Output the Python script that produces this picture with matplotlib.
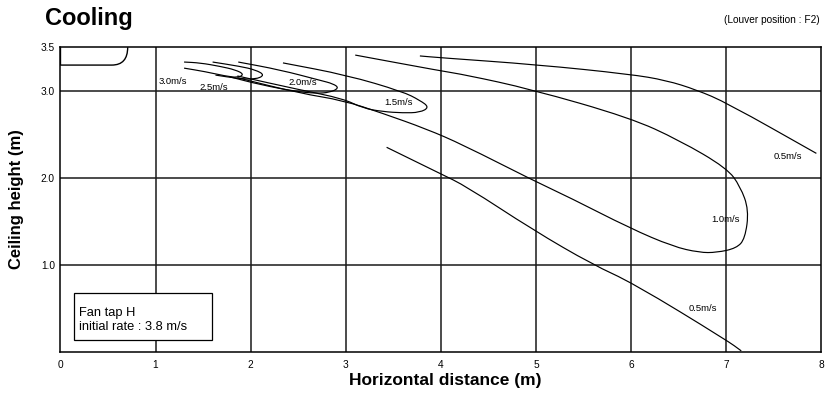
import matplotlib
matplotlib.use("Agg")
import matplotlib.pyplot as plt
from matplotlib.path import Path
from matplotlib.patches import PathPatch, Rectangle

plt.rcParams['font.family'] = ['Liberation Sans', 'DejaVu Sans']

# contour lines (x = horizontal distance m, y = height m)
v30_x = [1.30, 1.47, 1.68, 1.84, 1.93, 1.87, 1.73, 1.52, 1.30]
v30_y = [3.33, 3.32, 3.28, 3.24, 3.19, 3.15, 3.17, 3.22, 3.26]

v25_x = [1.60, 1.89, 2.05, 2.15, 2.05, 1.87, 1.63]
v25_y = [3.33, 3.28, 3.24, 3.18, 3.13, 3.14, 3.18]

v20_x = [1.87, 2.31, 2.73, 2.87, 2.93, 2.83, 2.69, 2.48, 2.10, 1.78]
v20_y = [3.33, 3.24, 3.12, 3.08, 3.03, 2.98, 2.97, 2.99, 3.07, 3.16]

v15_x = [2.34, 3.01, 3.60, 3.78, 3.88, 3.78, 3.60, 3.39, 3.18, 2.97, 2.52, 1.86]
v15_y = [3.32, 3.18, 2.99, 2.89, 2.81, 2.75, 2.745, 2.76, 2.80, 2.91, 3.01, 3.17]

v10_x = [3.10, 3.99, 4.27, 4.94, 5.99, 6.51, 7.01, 7.15, 7.24, 7.20, 7.11, 6.90,
         6.72, 6.44, 5.99, 5.36, 4.97, 4.23, 3.85, 3.39, 2.97, 2.52, 1.86]
v10_y = [3.41, 3.23, 3.18, 3.02, 2.69, 2.43, 2.11, 1.90, 1.63, 1.30, 1.19, 1.14,
         1.14, 1.21, 1.42, 1.77, 1.97, 2.38, 2.56, 2.74, 2.89, 2.97, 3.15]

v05_upper_x = [3.78, 3.99, 5.01, 5.99, 6.37, 6.69, 7.01, 7.95]
v05_upper_y = [3.40, 3.38, 3.30, 3.19, 3.12, 3.01, 2.86, 2.28]

v05_lower_x = [3.43, 3.99, 4.27, 4.97, 5.60, 6.02, 7.01, 7.16]
v05_lower_y = [2.35, 2.05, 1.90, 1.40, 1.00, 0.79, 0.13, 0.01]

curves = [(v30_x, v30_y), (v25_x, v25_y), (v20_x, v20_y), (v15_x, v15_y),
          (v10_x, v10_y), (v05_upper_x, v05_upper_y), (v05_lower_x, v05_lower_y)]

label_text = ['3.0m/s', '2.5m/s', '2.0m/s', '1.5m/s', '1.0m/s', '0.5m/s', '0.5m/s']
label_x = [1.18, 1.61, 2.545, 3.56, 6.99, 7.65, 6.76]
label_y = [3.105, 3.04, 3.09, 2.86, 1.52, 2.24, 0.50]

x_ticks = [0, 1, 2, 3, 4, 5, 6, 7, 8]
y_ticks = [1.0, 2.0, 3.0, 3.5]
y_ticklabels = ['1.0', '2.0', '3.0', '3.5']


def smooth_path(xs, ys):
    # rounded polyline: each read point acts as a control point
    pts = list(zip(xs, ys))
    verts = [pts[0]]
    codes = [Path.MOVETO]
    for i in range(1, len(pts) - 1):
        m0 = ((pts[i - 1][0] + pts[i][0]) / 2, (pts[i - 1][1] + pts[i][1]) / 2)
        m1 = ((pts[i][0] + pts[i + 1][0]) / 2, (pts[i][1] + pts[i + 1][1]) / 2)
        verts += [m0, pts[i], m1]
        codes += [Path.LINETO, Path.CURVE3, Path.CURVE3]
    verts.append(pts[-1])
    codes.append(Path.LINETO)
    return Path(verts, codes)


fig = plt.figure(figsize=(8.25, 3.97), dpi=100)
ax = fig.add_axes([0.0733, 0.114, 0.922, 0.767])
ax.set_xlim(0, 8)
ax.set_ylim(0, 3.5)

# grid
for gx in x_ticks[1:-1]:
    ax.axvline(gx, color='#1a1a1a', lw=1.1, zorder=1)
for gy in [1.0, 2.0, 3.0]:
    ax.axhline(gy, color='#1a1a1a', lw=1.1, zorder=1)

for cx, cy in curves:
    ax.add_patch(PathPatch(smooth_path(cx, cy), fill=False, lw=0.85,
                           edgecolor='black', zorder=3))

for t, tx, ty in zip(label_text, label_x, label_y):
    ax.text(tx, ty, t, fontsize=6.8, ha='center', va='center', zorder=4)

# louver outline
verts = [(0, 3.5), (0, 3.295), (0.54, 3.295), (0.707, 3.295), (0.707, 3.5)]
codes = [Path.MOVETO, Path.LINETO, Path.LINETO, Path.CURVE3, Path.CURVE3]
ax.add_patch(PathPatch(Path(verts, codes), fill=False, lw=1.0, edgecolor='black', zorder=3))

# info box
ax.add_patch(Rectangle((0.145, 0.134), 1.451, 0.544, facecolor='white',
                       edgecolor='black', lw=0.9, zorder=5))
ax.text(0.198, 0.366, 'Fan tap H\ninitial rate : 3.8 m/s', fontsize=9.3,
        ha='left', va='center', linespacing=1.25, zorder=6)

ax.set_xticks(x_ticks)
ax.set_xticklabels([str(v) for v in x_ticks])
ax.set_yticks(y_ticks)
ax.set_yticklabels(y_ticklabels)
ax.tick_params(axis='x', length=0, labelsize=7.3, pad=6)
ax.tick_params(axis='y', length=0, labelsize=7.3, pad=4)
for s in ax.spines.values():
    s.set_linewidth(1.1)

fig.text(45 / 825, 1 - 18 / 397, 'Cooling', fontsize=17, fontweight='bold',
         ha='left', va='center')
fig.text(820 / 825, 1 - 20 / 397, '(Louver position : F2)', fontsize=7.3,
         ha='right', va='center')
fig.text(17 / 825, 0.4975, 'Ceiling height (m)', fontsize=12, fontweight='bold',
         rotation=90, ha='center', va='center')
fig.text(0.54, 1 - 381 / 397, 'Horizontal distance (m)', fontsize=12.5,
         fontweight='bold', ha='center', va='center')

fig.savefig('out.png', dpi=100)
